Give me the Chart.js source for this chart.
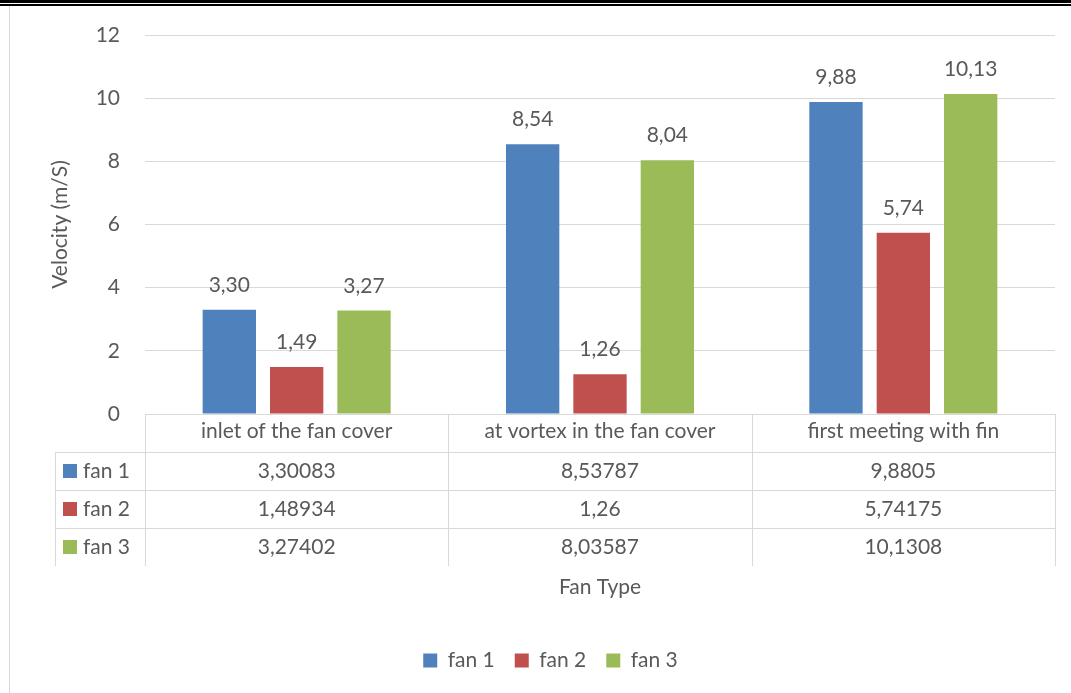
<!DOCTYPE html>
<html>
<head>
<meta charset="utf-8">
<script src="https://cdn.jsdelivr.net/npm/chart.js@4/dist/chart.umd.min.js"></script>
<style>
  html, body { margin: 0; padding: 0; background: #ffffff; }
  #wrap { width: 1071px; height: 693px; position: relative; }
</style>
</head>
<body>
<div id="wrap"><canvas id="myChart"></canvas></div>
<script>
// data
const categories = ['inlet of the fan cover', 'at vortex in the fan cover', 'first meeting with fin'];
const seriesNames = ['fan 1', 'fan 2', 'fan 3'];
const fan1 = [3.30083, 8.53787, 9.8805];
const fan2 = [1.48934, 1.26, 5.74175];
const fan3 = [3.27402, 8.03587, 10.1308];
const yTicks = [0, 2, 4, 6, 8, 10, 12];

const blue = '#4f81bd';
const red = '#c0504d';
const green = '#9bbb59';
const textColor = '#595959';
const lineColor = '#d9d9d9';
const fontFamily = 'Lato, "Open Sans", sans-serif';
const fontSize = 21;

function comma(v) {
  return String(v).replace('.', ',');
}

// thin frame + double rule at the top, drawn behind everything
const framePlugin = {
  id: 'frame',
  afterLayout(chart) {
    // the legend sits a little right of centre in the original
    chart.legend.left += 18;
    chart.legend.right += 18;
  },
  beforeDraw(chart) {
    const c = chart.ctx;
    c.save();
    c.fillStyle = '#ffffff';
    c.fillRect(0, 0, chart.width, chart.height);
    c.fillStyle = '#000000';
    c.fillRect(0, 0, chart.width, 3);
    c.fillRect(0, 4, chart.width, 2);
    c.fillStyle = lineColor;
    c.fillRect(9, 6, 1, chart.height - 6);
    c.restore();
  }
};

// value labels above each bar
const valueLabels = {
  id: 'valueLabels',
  afterDatasetsDraw(chart) {
    const c = chart.ctx;
    c.save();
    c.font = fontSize + 'px ' + fontFamily;
    c.fillStyle = textColor;
    c.textAlign = 'center';
    c.textBaseline = 'alphabetic';
    chart.data.datasets.forEach((ds, i) => {
      chart.getDatasetMeta(i).data.forEach((bar, j) => {
        c.fillText(ds.data[j].toFixed(2).replace('.', ','), bar.x, bar.y - 18);
      });
    });
    c.restore();
  }
};

// data table under the x axis
const dataTable = {
  id: 'dataTable',
  afterDraw(chart) {
    const c = chart.ctx;
    const area = chart.chartArea;
    const x = chart.scales.x;
    const rowH = 38;
    const top = area.bottom;
    const keyLeft = area.left - 90;
    const half = (x.getPixelForValue(1) - x.getPixelForValue(0)) / 2;
    c.save();
    c.strokeStyle = lineColor;
    c.lineWidth = 1;
    c.beginPath();
    // horizontal rules
    for (let r = 1; r <= 3; r++) {
      c.moveTo(keyLeft, Math.round(top + rowH * r) + 0.5);
      c.lineTo(area.right, Math.round(top + rowH * r) + 0.5);
    }
    // vertical rules
    c.moveTo(keyLeft + 0.5, top + rowH);
    c.lineTo(keyLeft + 0.5, top + rowH * 4);
    for (let k = 0; k <= categories.length; k++) {
      const px = Math.round(x.getPixelForValue(k) - half) + 0.5;
      c.moveTo(px, top);
      c.lineTo(px, top + rowH * 4);
    }
    c.stroke();

    c.font = fontSize + 'px ' + fontFamily;
    c.textBaseline = 'middle';
    chart.data.datasets.forEach((ds, i) => {
      const cy = top + rowH * (i + 1) + rowH / 2;
      c.fillStyle = ds.backgroundColor;
      c.fillRect(keyLeft + 8, cy - 7, 14, 14);
      c.fillStyle = textColor;
      c.textAlign = 'left';
      c.fillText(ds.label, keyLeft + 28, cy);
      c.textAlign = 'center';
      ds.data.forEach((v, j) => {
        c.fillText(comma(v), x.getPixelForValue(j), cy);
      });
    });
    c.restore();
  }
};

const ctx = document.getElementById('myChart');
const chart = new Chart(ctx, {
  type: 'bar',
  data: {
    labels: categories,
    datasets: [
      { label: seriesNames[0], data: fan1, backgroundColor: blue },
      { label: seriesNames[1], data: fan2, backgroundColor: red },
      { label: seriesNames[2], data: fan3, backgroundColor: green },
    ],
  },
  options: {
    responsive: true,
    maintainAspectRatio: false,
    animation: false,
    devicePixelRatio: 1,
    categoryPercentage: 0.666,
    barPercentage: 0.792,
    layout: { padding: { left: 10, right: 16, top: 35, bottom: 12 } },
    plugins: {
      tooltip: { enabled: false },
      legend: {
        position: 'bottom',
        labels: {
          boxWidth: 14,
          boxHeight: 14,
          padding: 20,
          color: textColor,
          font: { family: fontFamily, size: fontSize },
        },
      },
    },
    scales: {
      x: {
        grid: { display: false, drawTicks: false },
        border: { display: true, color: lineColor, width: 1 },
        ticks: { color: textColor, padding: 5, font: { family: fontFamily, size: fontSize } },
        title: {
          display: true,
          text: 'Fan Type',
          color: textColor,
          font: { family: fontFamily, size: fontSize },
          padding: { top: 0, bottom: 30 },
        },
        afterFit(scale) { scale.height = 216; },
      },
      y: {
        min: yTicks[0],
        max: yTicks[yTicks.length - 1],
        grid: { color: lineColor, drawTicks: false },
        border: { display: false },
        afterBuildTicks(scale) { scale.ticks = yTicks.map(v => ({ value: v })); },
        ticks: { color: textColor, padding: 25, font: { family: fontFamily, size: fontSize } },
        title: {
          display: true,
          text: 'Velocity (m/S)',
          color: textColor,
          font: { family: fontFamily, size: fontSize },
          padding: { top: 38, bottom: 0 },
        },
        afterFit(scale) {
          scale.width = 135;
          scale.paddingTop = 0;
          scale.paddingBottom = 0;
        },
      },
    },
  },
  plugins: [framePlugin, valueLabels, dataTable],
});
</script>
</body>
</html>
